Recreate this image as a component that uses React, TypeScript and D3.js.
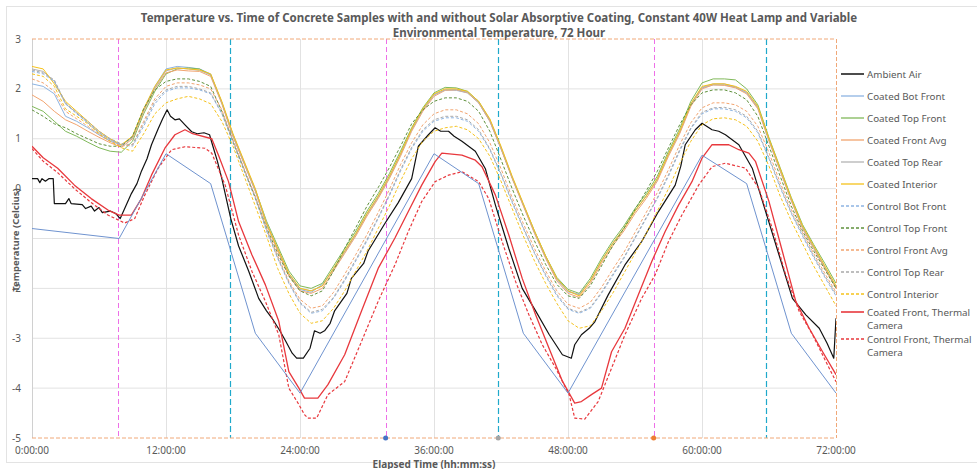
import { useEffect } from 'react'
import * as d3 from 'd3'

const W = 977, H = 469
const LEFT = 32, RIGHT = 836, TOP = 39, BOTTOM = 438
const FONT = "'Noto Sans', 'Open Sans', sans-serif"
const TXT = '#595959'

const TITLE_LINES = [
  'Temperature vs. Time of Concrete Samples with and without Solar Absorptive Coating, Constant 40W Heat Lamp and Variable',
  'Environmental Temperature, 72 Hour',
]
const X_TITLE = 'Elapsed Time (hh:mm:ss)'
const Y_TITLE = 'Temperature (Celcius)'

const X_TICKS = [0, 12, 24, 36, 48, 60, 72]
const X_TICK_LABELS = ['0:00:00', '12:00:00', '24:00:00', '36:00:00', '48:00:00', '60:00:00', '72:00:00']
const Y_TICKS = [3, 2, 1, 0, -1, -2, -3, -4, -5]

// vertical event lines (hours)
const LAMP_ON = [7.67, 31.67, 55.67]
const LAMP_OFF = [17.75, 41.75, 65.75]
const AXIS_MARKER_TIMES = [31.67, 41.75, 55.67]

// hourly samples, 0..72
const HOURS = d3.range(0, 73)

const COATED_BOT_FRONT = [2.10, 2.05, 1.90, 1.45, 1.35, 1.22, 1.08, 0.95, 0.88, 1.02, 1.58, 2.05, 2.40, 2.45, 2.43, 2.40, 2.30, 1.72, 1.05, 0.50, -0.05, -0.72, -1.22, -1.72, -2.02, -2.08, -1.92, -1.62, -1.28, -0.92, -0.52, -0.18, 0.22, 0.68, 1.18, 1.58, 1.88, 1.98, 1.97, 1.92, 1.72, 1.35, 0.80, 0.22, -0.33, -0.88, -1.38, -1.82, -2.07, -2.12, -1.85, -1.45, -1.10, -0.80, -0.45, -0.15, 0.18, 0.68, 1.12, 1.68, 2.02, 2.08, 2.08, 2.03, 1.92, 1.62, 0.98, 0.38, -0.22, -0.78, -1.18, -1.58, -1.98]
const COATED_TOP_FRONT = [1.65, 1.55, 1.35, 1.15, 1.05, 0.93, 0.82, 0.75, 0.73, 0.95, 1.50, 1.95, 2.30, 2.40, 2.42, 2.40, 2.28, 1.72, 1.08, 0.52, -0.02, -0.65, -1.15, -1.65, -1.95, -2.00, -1.90, -1.55, -1.20, -0.85, -0.45, -0.10, 0.30, 0.75, 1.22, 1.62, 1.92, 2.03, 2.02, 1.95, 1.75, 1.38, 0.82, 0.22, -0.32, -0.85, -1.35, -1.78, -2.02, -2.10, -1.80, -1.40, -1.05, -0.75, -0.40, -0.10, 0.25, 0.75, 1.20, 1.75, 2.12, 2.20, 2.20, 2.18, 2.00, 1.68, 1.02, 0.42, -0.18, -0.72, -1.12, -1.50, -1.90]
const COATED_FRONT_AVG = [1.88, 1.75, 1.55, 1.38, 1.28, 1.15, 1.03, 0.92, 0.83, 1.00, 1.55, 2.00, 2.32, 2.38, 2.36, 2.35, 2.25, 1.70, 1.05, 0.50, -0.05, -0.70, -1.25, -1.75, -2.05, -2.10, -2.00, -1.65, -1.30, -0.95, -0.55, -0.20, 0.20, 0.65, 1.15, 1.55, 1.85, 1.97, 1.98, 1.92, 1.72, 1.35, 0.80, 0.20, -0.35, -0.90, -1.40, -1.85, -2.10, -2.18, -1.90, -1.50, -1.15, -0.85, -0.50, -0.20, 0.15, 0.65, 1.10, 1.65, 2.00, 2.08, 2.07, 2.02, 1.90, 1.60, 0.95, 0.35, -0.25, -0.80, -1.20, -1.60, -2.00]
const COATED_TOP_REAR = [2.40, 2.35, 2.15, 1.70, 1.52, 1.32, 1.12, 0.98, 0.87, 1.03, 1.58, 2.02, 2.36, 2.42, 2.40, 2.37, 2.28, 1.73, 1.08, 0.53, -0.03, -0.68, -1.20, -1.70, -2.00, -2.05, -1.95, -1.60, -1.25, -0.90, -0.50, -0.15, 0.25, 0.70, 1.18, 1.58, 1.88, 1.98, 1.99, 1.93, 1.73, 1.38, 0.83, 0.23, -0.32, -0.87, -1.37, -1.80, -2.05, -2.13, -1.85, -1.45, -1.10, -0.80, -0.45, -0.15, 0.20, 0.70, 1.15, 1.70, 2.03, 2.10, 2.10, 2.04, 1.93, 1.63, 0.98, 0.38, -0.22, -0.77, -1.17, -1.57, -1.97]
const COATED_INTERIOR = [2.45, 2.40, 2.10, 1.75, 1.55, 1.35, 1.15, 1.00, 0.88, 1.05, 1.60, 2.05, 2.38, 2.42, 2.40, 2.38, 2.30, 1.75, 1.10, 0.55, 0.00, -0.70, -1.20, -1.70, -2.00, -2.05, -1.95, -1.60, -1.25, -0.90, -0.50, -0.15, 0.25, 0.70, 1.20, 1.60, 1.90, 2.00, 2.00, 1.95, 1.75, 1.40, 0.85, 0.25, -0.30, -0.85, -1.35, -1.80, -2.05, -2.15, -1.85, -1.45, -1.10, -0.80, -0.45, -0.15, 0.20, 0.70, 1.15, 1.70, 2.05, 2.10, 2.10, 2.05, 1.95, 1.65, 1.00, 0.40, -0.20, -0.75, -1.15, -1.55, -1.95]

const CONTROL_BOT_FRONT = [2.35, 2.30, 2.15, 1.70, 1.50, 1.32, 1.12, 0.98, 0.88, 0.85, 1.25, 1.70, 1.95, 2.02, 2.02, 1.98, 1.90, 1.50, 0.92, 0.35, -0.20, -0.85, -1.40, -1.90, -2.30, -2.50, -2.45, -2.20, -1.85, -1.45, -1.05, -0.60, -0.15, 0.35, 0.80, 1.15, 1.35, 1.42, 1.42, 1.35, 1.15, 0.78, 0.28, -0.28, -0.80, -1.30, -1.75, -2.15, -2.42, -2.50, -2.40, -2.10, -1.75, -1.40, -1.00, -0.60, -0.20, 0.25, 0.75, 1.20, 1.50, 1.60, 1.60, 1.55, 1.42, 1.12, 0.60, 0.02, -0.50, -0.95, -1.38, -1.78, -2.15]
const CONTROL_TOP_FRONT = [1.58, 1.45, 1.30, 1.22, 1.10, 1.00, 0.90, 0.85, 0.85, 1.05, 1.60, 1.98, 2.15, 2.20, 2.20, 2.15, 2.05, 1.55, 0.95, 0.38, -0.18, -0.78, -1.30, -1.75, -2.05, -2.15, -2.05, -1.65, -1.20, -0.78, -0.35, 0.02, 0.42, 0.85, 1.30, 1.58, 1.75, 1.82, 1.82, 1.75, 1.55, 1.15, 0.58, 0.00, -0.55, -1.05, -1.52, -1.92, -2.15, -2.20, -1.95, -1.55, -1.15, -0.80, -0.42, -0.05, 0.35, 0.82, 1.28, 1.68, 1.92, 1.98, 1.98, 1.92, 1.78, 1.45, 0.85, 0.25, -0.35, -0.85, -1.25, -1.62, -2.00]
const CONTROL_FRONT_AVG = [2.20, 2.12, 1.95, 1.55, 1.40, 1.25, 1.08, 0.95, 0.85, 0.88, 1.35, 1.80, 2.05, 2.12, 2.12, 2.08, 2.00, 1.58, 0.98, 0.40, -0.15, -0.80, -1.35, -1.85, -2.22, -2.40, -2.35, -2.08, -1.72, -1.32, -0.92, -0.48, -0.02, 0.48, 0.92, 1.28, 1.50, 1.58, 1.58, 1.50, 1.30, 0.92, 0.40, -0.18, -0.70, -1.20, -1.65, -2.05, -2.32, -2.40, -2.28, -1.98, -1.62, -1.28, -0.88, -0.48, -0.08, 0.38, 0.88, 1.32, 1.62, 1.72, 1.72, 1.68, 1.55, 1.25, 0.72, 0.12, -0.42, -0.88, -1.30, -1.70, -2.08]
const CONTROL_TOP_REAR = [2.38, 2.32, 2.18, 1.72, 1.52, 1.35, 1.15, 1.00, 0.90, 0.88, 1.30, 1.75, 1.98, 2.05, 2.05, 2.00, 1.92, 1.52, 0.95, 0.38, -0.18, -0.82, -1.38, -1.88, -2.28, -2.48, -2.42, -2.18, -1.82, -1.42, -1.02, -0.58, -0.12, 0.38, 0.83, 1.18, 1.38, 1.45, 1.45, 1.38, 1.18, 0.80, 0.30, -0.25, -0.78, -1.28, -1.72, -2.12, -2.40, -2.48, -2.38, -2.08, -1.72, -1.38, -0.98, -0.58, -0.18, 0.28, 0.78, 1.22, 1.53, 1.62, 1.63, 1.58, 1.45, 1.15, 0.62, 0.05, -0.48, -0.92, -1.35, -1.75, -2.12]
const CONTROL_INTERIOR = [2.30, 2.25, 2.05, 1.60, 1.45, 1.30, 1.10, 0.95, 0.82, 0.75, 1.10, 1.50, 1.72, 1.80, 1.85, 1.80, 1.70, 1.35, 0.85, 0.25, -0.35, -0.95, -1.60, -2.10, -2.50, -2.70, -2.65, -2.40, -2.05, -1.65, -1.25, -0.80, -0.35, 0.15, 0.60, 0.95, 1.15, 1.22, 1.25, 1.18, 1.00, 0.65, 0.15, -0.40, -0.95, -1.45, -1.90, -2.30, -2.65, -2.80, -2.75, -2.45, -2.10, -1.70, -1.30, -0.90, -0.45, 0.00, 0.50, 0.95, 1.28, 1.40, 1.42, 1.38, 1.25, 0.95, 0.45, -0.15, -0.65, -1.10, -1.55, -1.95, -2.35]

// [hour, °C]
const AMBIENT_AIR = [[0, 0.2], [0.5, 0.2], [0.7, 0.12], [0.9, 0.2], [1.2, 0.15], [1.5, 0.2], [1.9, 0.2], [2.0, -0.3], [3.0, -0.3], [3.3, -0.2], [3.5, -0.3], [4.5, -0.32], [4.8, -0.4], [5.3, -0.35], [5.6, -0.45], [6.0, -0.38], [6.3, -0.48], [7.0, -0.45], [7.5, -0.5], [7.9, -0.6], [8.3, -0.4], [8.9, -0.1], [9.4, 0.1], [9.8, 0.35], [10.3, 0.6], [10.7, 0.88], [11.3, 1.2], [11.7, 1.4], [12.1, 1.58], [12.4, 1.45], [12.8, 1.38], [13.2, 1.4], [13.7, 1.28], [14.3, 1.14], [14.8, 1.1], [15.4, 1.12], [15.9, 1.08], [16.2, 0.85], [16.6, 0.55], [17.0, 0.2], [17.4, -0.2], [17.8, -0.6], [18.5, -1.15], [19.4, -1.65], [20.3, -2.2], [21.0, -2.45], [21.5, -2.6], [22.2, -2.85], [22.7, -3.05], [23.3, -3.3], [23.7, -3.4], [24.3, -3.4], [24.9, -3.2], [25.3, -2.85], [25.8, -2.9], [26.2, -2.85], [26.7, -2.7], [27.1, -2.45], [28.2, -2.1], [28.6, -1.8], [29.7, -1.5], [30.1, -1.25], [31.6, -0.7], [32.8, -0.28], [34.0, 0.2], [34.6, 0.85], [35.5, 1.08], [36.1, 1.22], [36.6, 1.15], [37.3, 1.15], [37.8, 1.05], [38.5, 0.95], [39.7, 0.75], [40.6, 0.4], [41.5, -0.33], [42.7, -1.2], [43.9, -2.0], [45.1, -2.45], [46.3, -2.92], [47.5, -3.33], [48.3, -3.4], [48.6, -3.13], [49.2, -2.93], [49.9, -2.8], [50.4, -2.67], [51.6, -2.13], [53.1, -1.53], [54.6, -1.06], [56.1, -0.46], [57.6, 0.07], [58.1, 0.45], [58.5, 0.88], [59.4, 1.18], [60.0, 1.31], [60.9, 1.18], [61.5, 1.15], [62.1, 1.08], [63.3, 0.88], [64.5, 0.41], [65.7, -0.46], [66.9, -1.33], [68.1, -2.2], [69.3, -2.53], [70.5, -2.8], [71.2, -3.1], [71.8, -3.4], [72, -2.6]]

const COATED_THERMAL = [[0, 0.85], [1, 0.62], [2.3, 0.41], [3.8, 0.07], [5.3, -0.2], [6.8, -0.43], [7.8, -0.53], [8.9, -0.53], [9.8, -0.2], [10.7, 0.27], [11.9, 0.81], [12.8, 1.08], [13.7, 1.18], [14.3, 1.11], [16.1, 1.0], [16.7, 0.67], [17.6, 0.14], [18.5, -0.66], [19.7, -1.33], [20.9, -1.93], [22.1, -2.66], [23.0, -3.67], [23.9, -4.0], [24.4, -4.2], [25.6, -4.2], [26.5, -3.93], [28.0, -3.33], [29.5, -2.46], [31.0, -1.6], [32.5, -0.99], [33.7, -0.46], [34.9, 0.07], [36.1, 0.54], [36.7, 0.71], [38.5, 0.67], [39.7, 0.57], [40.3, 0.44], [41.5, -0.13], [42.7, -0.93], [43.9, -1.8], [45.1, -2.53], [46.3, -3.2], [47.5, -3.86], [48.6, -4.3], [49.2, -4.27], [50.1, -4.13], [51.0, -4.0], [51.9, -3.27], [53.1, -2.8], [54.3, -2.13], [55.5, -1.46], [56.7, -0.86], [57.9, -0.33], [59.1, 0.14], [60.0, 0.61], [60.9, 0.88], [62.4, 0.88], [63.3, 0.78], [64.2, 0.71], [64.8, 0.54], [66.0, -0.26], [67.2, -1.26], [68.4, -2.26], [69.6, -2.8], [70.8, -3.27], [72, -3.73]]
const CONTROL_THERMAL = [[0, 0.8], [1, 0.55], [2.3, 0.32], [3.8, 0.0], [5.3, -0.28], [6.8, -0.53], [8.3, -0.69], [9.2, -0.6], [10.1, -0.13], [11.3, 0.41], [12.5, 0.78], [13.7, 0.84], [15.5, 0.81], [16.1, 0.71], [17.3, 0.07], [18.5, -0.93], [19.7, -1.66], [20.9, -2.26], [22.1, -2.93], [23.0, -4.0], [23.9, -4.33], [24.4, -4.53], [24.7, -4.6], [25.5, -4.6], [26.5, -4.13], [28.0, -3.87], [29.5, -3.07], [31.0, -2.26], [32.5, -1.53], [33.7, -0.86], [34.9, -0.26], [36.1, 0.14], [37.3, 0.27], [38.5, 0.34], [40.0, 0.14], [40.9, -0.2], [42.1, -1.06], [43.3, -1.86], [44.5, -2.53], [45.7, -3.13], [46.9, -3.6], [48.1, -4.13], [48.6, -4.6], [49.5, -4.62], [50.7, -4.27], [51.9, -3.6], [53.1, -2.93], [54.6, -2.2], [55.8, -1.73], [57.0, -1.06], [58.2, -0.53], [59.7, 0.07], [60.9, 0.44], [62.1, 0.51], [63.9, 0.41], [65.1, 0.0], [66.3, -0.8], [67.5, -1.73], [68.7, -2.46], [69.9, -2.93], [71.1, -3.47], [72, -3.87]]
// sparse reference readings
const SPOT_READINGS = [[0, -0.8], [7.8, -1.0], [12, 0.7], [16, 0.1], [20, -2.9], [24, -4.1], [36, 0.7], [40, 0.1], [44, -2.9], [48, -4.1], [60, 0.67], [64, 0.1], [68, -2.9], [72, -4.1]]

type Pt = [number, number]
const hourly = (vals: number[]): Pt[] => HOURS.map((h, i) => [h, vals[i]] as Pt)

const SERIES = [
  { label: 'Ambient Air', data: AMBIENT_AIR as Pt[], color: '#111111', dash: null, w: 1.2 },
  { label: 'Coated Bot Front', data: hourly(COATED_BOT_FRONT), color: '#8db4e2', dash: null, w: 1 },
  { label: 'Coated Top Front', data: hourly(COATED_TOP_FRONT), color: '#80b95a', dash: null, w: 1 },
  { label: 'Coated Front Avg', data: hourly(COATED_FRONT_AVG), color: '#f2a46f', dash: null, w: 1 },
  { label: 'Coated Top Rear', data: hourly(COATED_TOP_REAR), color: '#b4b4b4', dash: null, w: 1 },
  { label: 'Coated Interior', data: hourly(COATED_INTERIOR), color: '#f5c21b', dash: null, w: 1 },
  { label: 'Control Bot Front', data: hourly(CONTROL_BOT_FRONT), color: '#8db4e2', dash: '3,2', w: 1 },
  { label: 'Control Top Front', data: hourly(CONTROL_TOP_FRONT), color: '#5f913c', dash: '3,2', w: 1 },
  { label: 'Control Front Avg', data: hourly(CONTROL_FRONT_AVG), color: '#f2a46f', dash: '3,2', w: 1 },
  { label: 'Control Top Rear', data: hourly(CONTROL_TOP_REAR), color: '#a9a9a9', dash: '3,2', w: 1 },
  { label: 'Control Interior', data: hourly(CONTROL_INTERIOR), color: '#f5c21b', dash: '3,2', w: 1 },
  { label: 'Coated Front, Thermal|Camera', data: COATED_THERMAL as Pt[], color: '#e8383d', dash: null, w: 1.3 },
  { label: 'Control Front, Thermal|Camera', data: CONTROL_THERMAL as Pt[], color: '#e8383d', dash: '3,2', w: 1.2 },
]
const MARKER_COLORS = ['#4472c4', '#a5a5a5', '#ed7d31']

const LEGEND_Y = [74, 96, 118, 140, 162, 184, 206, 228, 250, 272, 294, 312, 339]
const LEGEND_LINE_GAP = 13.5

export default function App() {
  useEffect(() => { document.body.style.margin = '0' }, [])

  const x = d3.scaleLinear([0, 72], [LEFT, RIGHT])
  const y = d3.scaleLinear([-5, 3], [BOTTOM, TOP])
  const line = d3.line<Pt>().x(d => x(d[0])).y(d => y(d[1]))
  const px = (h: number) => Math.round(x(h)) + 0.5

  return (
    <svg width={W} height={H} viewBox={`0 0 ${W} ${H}`} style={{ display: 'block', background: '#fff', fontFamily: FONT }}>
      <defs>
        <clipPath id="plot"><rect x={LEFT} y={TOP - 2} width={RIGHT - LEFT} height={BOTTOM - TOP + 4} /></clipPath>
      </defs>
      <rect x={6.5} y={6.5} width={W} height={H - 13} fill="none" stroke="#e3e3e3" />

      {TITLE_LINES.map((t, i) => (
        <text key={i} x={499} y={22 + i * 15} textAnchor="middle" fontSize={11.5} fontWeight={700} fill={TXT}>{t}</text>
      ))}

      {/* grid */}
      {Y_TICKS.filter(v => v < 3 && v > -5).map(v => (
        <line key={'h' + v} x1={LEFT} x2={RIGHT} y1={y(v)} y2={y(v)} stroke="#e2e2e2" />
      ))}
      {X_TICKS.filter(h => h > 0 && h < 72).map(h => (
        <line key={'v' + h} x1={px(h)} x2={px(h)} y1={TOP} y2={BOTTOM} stroke="#e2e2e2" />
      ))}
      <line x1={px(0)} x2={px(0)} y1={TOP} y2={BOTTOM} stroke="#d0d0d0" />

      {LAMP_ON.map(h => (
        <line key={'on' + h} x1={px(h)} x2={px(h)} y1={TOP} y2={BOTTOM} stroke="#ee6fe8" strokeDasharray="5,3" />
      ))}
      {LAMP_OFF.map(h => (
        <line key={'off' + h} x1={px(h)} x2={px(h)} y1={TOP} y2={BOTTOM} stroke="#1fa9cb" strokeWidth={1.2} strokeDasharray="6,3" />
      ))}

      {/* dashed frame */}
      <line x1={LEFT} x2={RIGHT} y1={y(3)} y2={y(3)} stroke="#f0a878" strokeDasharray="4,2" />
      <line x1={LEFT} x2={RIGHT} y1={y(-5)} y2={y(-5)} stroke="#f0a878" strokeDasharray="4,2" />
      <line x1={px(72)} x2={px(72)} y1={TOP} y2={BOTTOM} stroke="#f0a878" strokeDasharray="4,2" />

      <g clipPath="url(#plot)" fill="none" strokeLinejoin="round">
        {SERIES.map(s => (
          <path key={s.label} d={line(s.data) ?? ''} stroke={s.color} strokeWidth={s.w} strokeDasharray={s.dash ?? undefined} />
        ))}
        <path d={line(SPOT_READINGS as Pt[]) ?? ''} stroke="#6f93cf" strokeWidth={1} />
      </g>

      {AXIS_MARKER_TIMES.map((h, i) => (
        <circle key={'m' + h} cx={x(h)} cy={y(-5)} r={2.5} fill={MARKER_COLORS[i]} />
      ))}

      {/* axes labels */}
      {Y_TICKS.map(v => (
        <text key={'yt' + v} x={21} y={y(v) + 3.5} textAnchor="end" fontSize={10} fill={TXT}>{v}</text>
      ))}
      {X_TICKS.map((h, i) => (
        <text key={'xt' + h} x={x(h)} y={454} textAnchor="middle" fontSize={10} fill={TXT}>{X_TICK_LABELS[i]}</text>
      ))}
      <text x={434} y={467.5} textAnchor="middle" fontSize={10} fontWeight={700} fill={TXT}>{X_TITLE}</text>
      <rect x={9} y={194} width={14} height={90} fill="#fff" />
      <text transform={`translate(19,240) rotate(-90)`} textAnchor="middle" fontSize={9.5} fontWeight={700} fill={TXT}>{Y_TITLE}</text>

      {/* legend */}
      {SERIES.map((s, i) => {
        const ly = LEGEND_Y[i]
        const parts = s.label.split('|')
        return (
          <g key={'lg' + s.label}>
            <line x1={841} x2={864} y1={ly} y2={ly} stroke={s.color} strokeWidth={s.w + 0.3} strokeDasharray={s.dash ?? undefined} />
            {parts.map((p, j) => (
              <text key={j} x={867} y={ly + 3.5 + j * LEGEND_LINE_GAP} fontSize={9.8} fill={TXT}>{p}</text>
            ))}
          </g>
        )
      })}
    </svg>
  )
}
